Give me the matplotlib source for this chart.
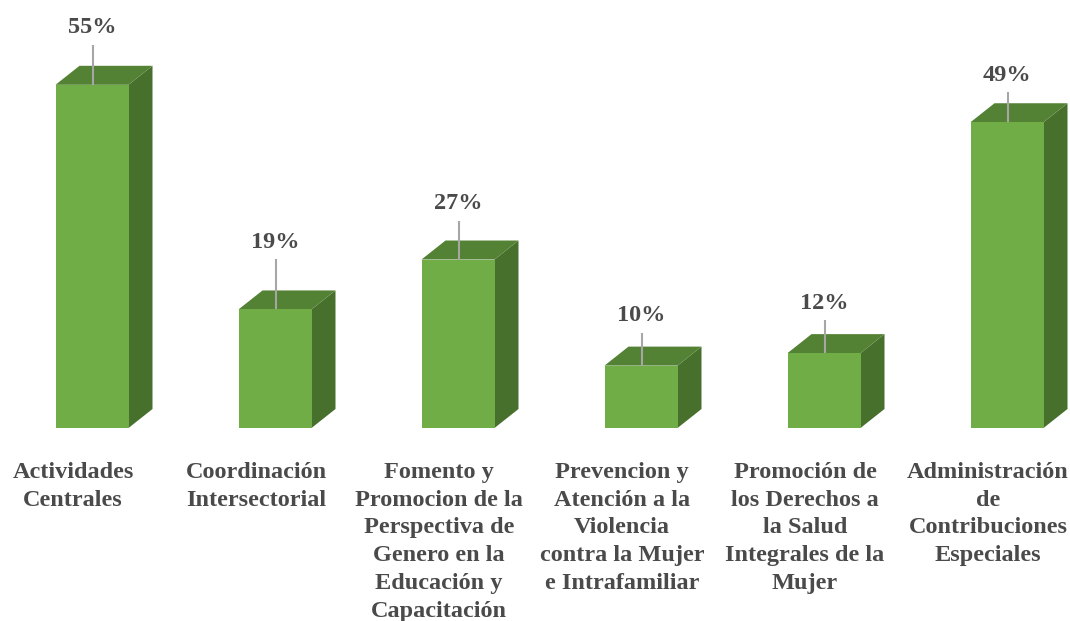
import matplotlib
matplotlib.use("Agg")
import matplotlib.pyplot as plt
from matplotlib.patches import Polygon

categories = [
    "Actividades\nCentrales",
    "Coordinación\nIntersectorial",
    "Fomento y\nPromocion de la\nPerspectiva de\nGenero en la\nEducación y\nCapacitación",
    "Prevencion y\nAtención a la\nViolencia\ncontra la Mujer\ne Intrafamiliar",
    "Promoción de\nlos Derechos a\nla Salud\nIntegrales de la\nMujer",
    "Administración\nde\nContribuciones\nEspeciales",
]
values = [55, 19, 27, 10, 12, 49]
value_labels = ["55%", "19%", "27%", "10%", "12%", "49%"]

# layout (pixels -> data)
W, H = 1070, 621
px_per_cat = 183.0
px_per_pct = 6.24
x0_px = 92.0
base_px = 428.0

fig = plt.figure(figsize=(W / 100, H / 100), dpi=100)
ax = fig.add_axes([0, 0, 1, 1])
ax.set_xlim(-x0_px / px_per_cat, (W - x0_px) / px_per_cat)
ax.set_ylim(-(H - base_px) / px_per_pct, base_px / px_per_pct)
ax.axis("off")

bw = 73 / px_per_cat
dx = 24 / px_per_cat
dy = 19 / px_per_pct

front = "#70AD47"
top = "#548235"
side = "#46702C"
text_color = "#4A4A4A"

label_off_px = [57, 67, 56, 50, 50, 47]
line_gap_px = 17

for i, v in enumerate(values):
    xl, xr = i - bw / 2, i + bw / 2
    ax.add_patch(Polygon([(xr, 0), (xr + dx, dy), (xr + dx, v + dy), (xr, v)],
                         closed=True, facecolor=side, edgecolor="none"))
    ax.add_patch(Polygon([(xl, v), (xr, v), (xr + dx, v + dy), (xl + dx, v + dy)],
                         closed=True, facecolor=top, edgecolor="none"))
    ax.add_patch(Polygon([(xl, 0), (xr, 0), (xr, v), (xl, v)],
                         closed=True, facecolor=front, edgecolor="none"))
    ly = v + label_off_px[i] / px_per_pct
    ax.plot([i + 0.005, i + 0.005], [v, ly - line_gap_px / px_per_pct],
            color="#A6A6A6", lw=1.5, solid_capstyle="butt")
    ax.text(i, ly, value_labels[i], ha="center", va="center",
            fontsize=17.5, fontweight="bold", family="Liberation Serif",
            color=text_color)
    ax.text(i - 19 / px_per_cat, -(462 - base_px) / px_per_pct, categories[i],
            ha="center", va="top", fontsize=17.5, fontweight="bold",
            family="Liberation Serif", color=text_color, linespacing=1.42)

fig.savefig("out.png", dpi=100)
